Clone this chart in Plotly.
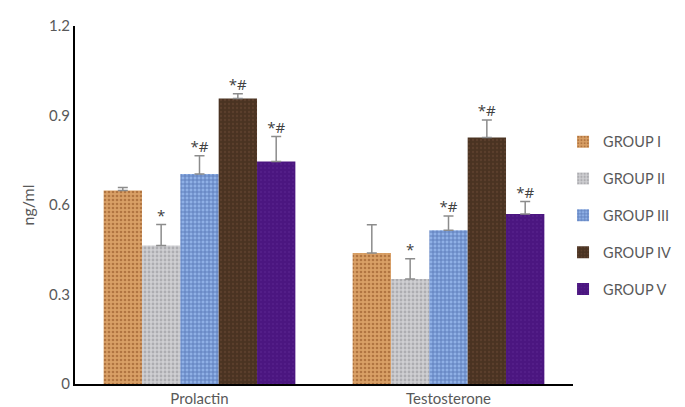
import plotly.graph_objects as go

categories = ['Prolactin', 'Testosterone']
groups = ['GROUP I', 'GROUP II', 'GROUP III', 'GROUP IV', 'GROUP V']

# means and upper error (ng/ml)
g1 = [0.649, 0.439]
g2 = [0.464, 0.352]
g3 = [0.704, 0.515]
g4 = [0.957, 0.826]
g5 = [0.746, 0.570]
g1_err = [0.010, 0.095]
g2_err = [0.071, 0.068]
g3_err = [0.061, 0.048]
g4_err = [0.016, 0.059]
g5_err = [0.084, 0.042]
marks = [['', ''], ['*', '*'], ['*#', '*#'], ['*#', '*#'], ['*#', '*#']]

values = [g1, g2, g3, g4, g5]
errors = [g1_err, g2_err, g3_err, g4_err, g5_err]

bg = ['#d9a066', '#cfcfd2', '#8fb0e6', '#4a3322', '#4b1680']
fg = ['#8a4a1c', '#8c8c90', '#2f4f93', '#6b4b35', '#5e2a96']
shapes = ['.', '.', '+', '.', '.']
solidity = [0.35, 0.4, 0.45, 0.25, 0.2]

fig = go.Figure()
for i, name in enumerate(groups):
    fig.add_trace(go.Bar(
        name=name, x=categories, y=values[i], offsetgroup=str(i),
        legendgroup=name,
        marker=dict(color=bg[i], line=dict(width=0),
                    pattern=dict(shape=shapes[i], fgcolor=fg[i], bgcolor=bg[i],
                                 size=4, solidity=solidity[i])),
        error_y=dict(type='data', array=errors[i],
                     arrayminus=[0] * len(categories), symmetric=False,
                     color='#8c8c8c', thickness=1.5, width=5)))

for i, name in enumerate(groups):
    tops = [v + e for v, e in zip(values[i], errors[i])]
    fig.add_trace(go.Scatter(
        x=categories, y=tops, mode='text', text=marks[i],
        textposition='top center', offsetgroup=str(i), showlegend=False,
        textfont=dict(family='Open Sans', size=15, color='#404040'),
        hoverinfo='skip'))

fig.update_layout(
    barmode='group', bargap=0.23, bargroupgap=0, scattermode='group',
    width=685, height=407,
    margin=dict(l=67, r=120, t=8, b=31),
    plot_bgcolor='white', paper_bgcolor='white',
    font=dict(family='Lato', color='#595959', size=15),
    legend=dict(x=0.98, xanchor='left', y=0.47, yanchor='middle',
                font=dict(size=14.5, color='#595959'),
                traceorder='grouped', tracegroupgap=15, itemwidth=30),
    showlegend=True)
fig.update_yaxes(range=[0, 1.2001], tickvals=[0, 0.3, 0.6, 0.9, 1.2],
                 ticktext=['0', '0.3', '0.6', '0.9', '1.2'],
                 ticklabeloverflow='allow',
                 showgrid=False, zeroline=False, showline=True,
                 linecolor='black', linewidth=2, ticks='',
                 title=dict(text='ng/ml', standoff=10, font=dict(size=16)))
fig.update_xaxes(showline=True, linecolor='black', linewidth=2, ticks='',
                 showgrid=False, tickfont=dict(size=15))

fig.write_html("out.html")
